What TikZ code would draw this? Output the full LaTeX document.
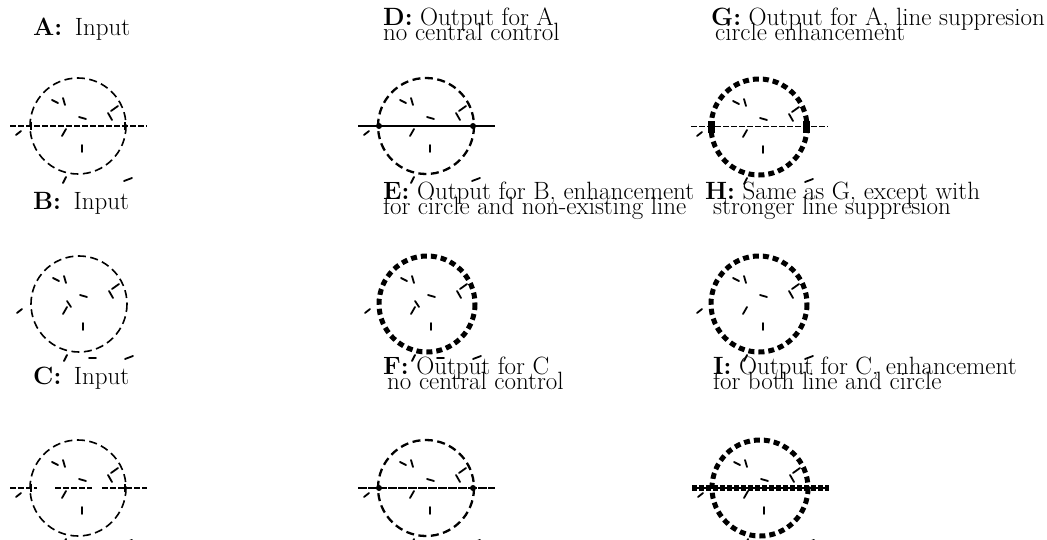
\documentclass[tikz,border=0pt]{standalone}
\usepackage{fontspec}
\newcommand\labfont{\fontsize{25}{15}\selectfont\lineskiplimit=-40pt\relax\lineskip=0pt\relax}
\begin{document}
\begin{tikzpicture}[x=1pt,y=-1pt]
\tikzset{
  lab/.style={anchor=north west, inner sep=0pt, font=\labfont, align=left},
  circA/.style={line width=1.6pt, dash pattern=on 8pt off 4.5pt},
  circD/.style={line width=2.3pt, dash pattern=on 8pt off 4.5pt},
  circG/.style={line width=5pt, dash pattern=on 6pt off 4pt},
  noiseseg/.style={line width=1.8pt, line cap=round},
  lineA/.style={line width=1.3pt, dash pattern=on 6pt off 2pt},
  lineD/.style={line width=2.8pt},
  tick/.style={line width=1.6pt},
}
\useasboundingbox (0,0) rectangle (1047,540);
\newcommand\noiseset{%
  \draw[noiseseg] (-26,-26)--(-20,-23);
  \draw[noiseseg] (-15,-28)--(-13,-21);
  \draw[noiseseg] (1,-9)--(8,-7);
  \draw[noiseseg] (33,-15)--(40,-20);
  \draw[noiseseg] (30,-13)--(34,-6);
  \draw[noiseseg] (-62,9)--(-57,5);
  \draw[noiseseg] (-16,10)--(-12,3);
  \draw[noiseseg] (4,19)--(4,26);
  \draw[noiseseg] (-15,57)--(-12,51);
  \draw[noiseseg] (46,55)--(54,52);
}
\newcommand\noiseextra{%
  \draw[noiseseg] (-12,-3)--(-8,3);
  \draw[noiseseg] (10,54)--(17,54);
}
% labels
\node[lab] (la) at (33,18) {\textbf{A:}\hspace{5pt} Input};
\node[lab] (ld) at (383,8) {\textbf{D:} Output for A\\no central control};
\node[lab] (lg) at (711,8) {\textbf{G:} Output for A, line suppresion\\\hspace*{4pt}circle enhancement};
\node[lab] (lb) at (33,192) {\textbf{B:}\hspace{5pt} Input};
\node[lab] (le) at (383,182) {\textbf{E:} Output for B, enhancement\\for circle and non-existing line};
\node[lab] (lh) at (705,182) {\textbf{H:} Same as G, except with\\\hspace*{8pt}stronger line suppresion};
\node[lab] (lc) at (33,367) {\textbf{C:}\hspace{5pt} Input};
\node[lab] (lf) at (383,357) {\textbf{F:} Output for C\\\hspace*{4pt}no central control};
\node[lab] (li) at (713,357) {\textbf{I:} Output for C, enhancement\\for both line and circle};
% Panel A
\begin{scope}[shift={(78,126)}]
  \draw[circA] (0,0) circle[radius=48];
  \noiseset
  \draw[lineA] (-68,0)--(69,0);
  \draw[tick] (-47,-4)--(-47,4);
  \draw[tick] (47,-4)--(47,4);
\end{scope}
% Panel B
\begin{scope}[shift={(79,304)}]
  \draw[circA] (0,0) circle[radius=48];
  \noiseset\noiseextra
\end{scope}
% Panel C
\begin{scope}[shift={(78,488)}]
  \draw[circA] (0,0) circle[radius=48];
  \noiseset
  \draw[lineA] (-68,0)--(-41,0);
  \draw[lineA] (-23,0)--(14,0);
  \draw[lineA] (24,0)--(69,0);
  \draw[tick] (-47,-4)--(-47,4);
  \draw[tick] (47,-4)--(47,4);
\end{scope}
% Panel D
\begin{scope}[shift={(426,126)}]
  \draw[circD] (0,0) circle[radius=48];
  \noiseset
  \draw[lineD] (-68,0)--(69,0);
  \fill (-47,0) circle[radius=3];
  \fill (47,0) circle[radius=3];
\end{scope}
% Panel E
\begin{scope}[shift={(427,304)}]
  \draw[circG] (0,0) circle[radius=48];
  \noiseset\noiseextra
\end{scope}
% Panel F
\begin{scope}[shift={(426,488)}]
  \draw[circD] (0,0) circle[radius=48];
  \noiseset
  \draw[lineD, dash pattern=on 9pt off 1pt] (-68,0)--(69,0);
  \fill (-47,0) circle[radius=3];
  \fill (47,0) circle[radius=3];
\end{scope}
% Panel G
\begin{scope}[shift={(759,127)}]
  \draw[circG] (0,0) circle[radius=48];
  \noiseset
  \draw[lineA, line width=1pt] (-68,0)--(69,0);
  \fill (-51,-6) rectangle (-44,6);
  \fill (44,-6) rectangle (51,6);
\end{scope}
% Panel H
\begin{scope}[shift={(759,304)}]
  \draw[circG] (0,0) circle[radius=48];
  \noiseset
\end{scope}
% Panel I
\begin{scope}[shift={(760,488)}]
  \draw[circG] (0,0) circle[radius=48];
  \noiseset
  \draw[line width=1.2pt] (-68,0)--(69,0);
  \draw[line width=6pt, dash pattern=on 5pt off 2pt] (-68,0)--(69,0);
\end{scope}
\end{tikzpicture}
\end{document}
